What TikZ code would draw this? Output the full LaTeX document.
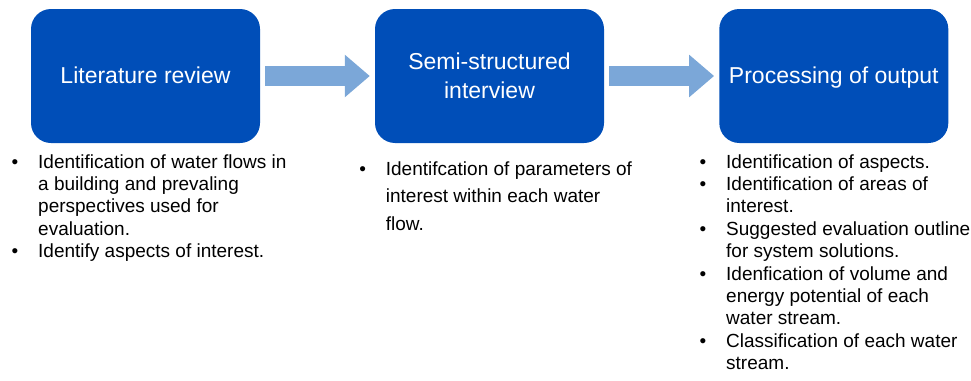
\documentclass[tikz,border=0pt]{standalone}
\usepackage{fontspec}
\setmainfont{Liberation Sans}
\usetikzlibrary{arrows.meta}

\definecolor{stageblue}{RGB}{0,78,184}
\definecolor{flowblue}{RGB}{123,167,216}

\tikzset{
  stage/.style={fill=stageblue, rounded corners=20pt, minimum width=229pt,
    minimum height=134pt, inner sep=0pt},
  stagetitle/.style={text=white, font=\fontsize{23}{29}\selectfont,
    align=center, inner sep=0pt, anchor=base},
  flow/.style={draw=flowblue, line width=20.3pt,
    -{Triangle[length=25pt,width=41pt]}, shorten <=5pt, shorten >=5pt},
  % multi-line nodes: the base anchor sits on the last line
  notes/.style={font=\fontsize{19}{22.4}\selectfont, align=left,
    inner sep=0pt, anchor=base west, text=black},
}
% bullet hung in the left margin of a list line
\newcommand\bul{\llap{\textbullet\hspace{20pt}}}

\begin{document}
\begin{tikzpicture}[x=1pt,y=-1pt]
  \useasboundingbox (0,0) rectangle (971,380);

  % process stages
  \node[stage] (lit)  at (145.5,76) {};
  \node[stage] (semi) at (489.5,76) {};
  \node[stage] (proc) at (833.8,76) {};

  \node[stagetitle] (litT)  at (145.5,83) {Literature review};
  \node[stagetitle] (semiT) at (489.5,98) {Semi-structured\\interview};
  \node[stagetitle] (procT) at (833.8,83) {Processing of output};

  % flow arrows between the stages
  \draw[flow] (lit) -- (semi);
  \draw[flow] (semi) -- (proc);

  % notes under each stage
  \node[notes] (litN) at (38,257.6) {%
    \bul Identification of water flows in\\
    a building and prevaling\\
    perspectives used for\\
    evaluation.\\
    \bul Identify aspects of interest.};

  \node[notes, font=\fontsize{19}{27.5}\selectfont] (semiN) at (385.7,230) {%
    \bul Identifcation of parameters of\\
    interest within each water\\
    flow.};

  \node[notes] (procN) at (726,369.6) {%
    \bul Identification of aspects.\\
    \bul Identification of areas of\\
    interest.\\
    \bul Suggested evaluation outline\\
    for system solutions.\\
    \bul Idenfication of volume and\\
    energy potential of each\\
    water stream.\\
    \bul Classification of each water\\
    stream.};
\end{tikzpicture}
\end{document}
